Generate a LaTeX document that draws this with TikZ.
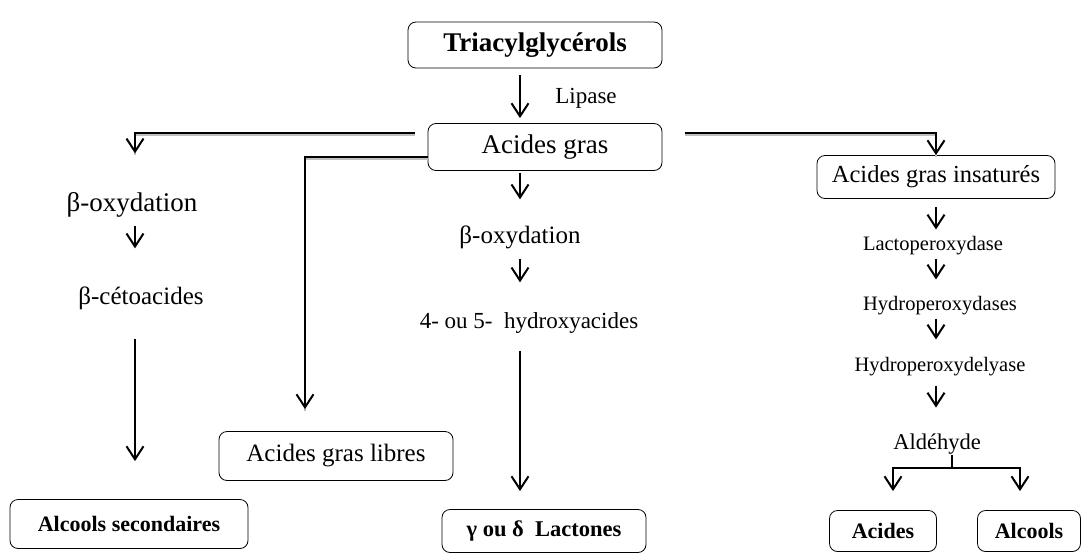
\documentclass[tikz,border=0pt]{standalone}
\usepackage{fontspec}
\setmainfont{Liberation Serif}
\usetikzlibrary{arrows.meta, positioning, calc}

\begin{document}
\begin{tikzpicture}[
  x=1pt, y=-1pt,
  >={Straight Barb[length=13pt, width=17pt, line width=2pt]},
  box/.style={draw, rounded corners=8pt, line width=0.8pt, inner sep=0pt},
  step label/.style={inner sep=1pt},
  arr/.style={->, line width=1.8pt},
  feed/.style={arr, preaction={draw=gray!50, line width=1.4pt, -, transform canvas={yshift=-2pt}}}
]
\useasboundingbox (0,0) rectangle (1082,552);

% Lipolysis
\node[box, minimum width=254pt, minimum height=46pt, font=\fontsize{27}{32}\selectfont\bfseries]
  (tag) at (535,45) {Triacylglycérols\hspace{18pt}};
\node[box, minimum width=234pt, minimum height=47pt, font=\fontsize{27}{32}\selectfont]
  (ag) at (545,147) {Acides gras};
\node[step label, font=\fontsize{23}{28}\selectfont] (lip) at (586,98) {Lipase};
\draw[arr, shorten <=7pt, shorten >=5pt] ([xshift=-15pt]tag.south) -- ([xshift=-25pt]ag.north);

% Left column: secondary alcohols
\node[step label, font=\fontsize{27}{32}\selectfont] (ox1) at (132,205) {β-oxydation};
\node[step label, font=\fontsize{25}{30}\selectfont] (ceto) at (141,298) {β-cétoacides};
\node[box, minimum width=238pt, minimum height=49pt, font=\fontsize{22}{26}\selectfont\bfseries]
  (als) at (129,524) {Alcools secondaires};
\coordinate (colL) at (135,0);
\draw[feed, shorten >=38pt] ([xshift=-13pt,yshift=14pt]ag.west) -| (ox1.north -| colL);
\draw[arr, shorten <=7pt, shorten >=37pt] (ox1.south -| colL) -- (ceto.north -| colL);
\draw[arr, shorten <=28pt, shorten >=38pt] (ceto.south -| colL) -- (als.north -| colL);

% Free fatty acids
\node[box, minimum width=234pt, minimum height=49pt, font=\fontsize{25}{30}\selectfont]
  (agl) at (336,456) {Acides gras libres};
\draw[feed, shorten >=22pt] ([yshift=-10pt]ag.west) -| ([xshift=-31pt]agl.north);

% Centre column: lactones
\node[step label, font=\fontsize{25}{30}\selectfont] (ox2) at (520,237) {β-oxydation};
\node[step label, font=\fontsize{23}{28}\selectfont] (hyd) at (529,323) {4- ou 5-~ hydroxyacides};
\node[box, minimum width=204pt, minimum height=43pt, font=\fontsize{22.5}{27}\selectfont\bfseries]
  (lac) at (544,531) {γ ou δ~ Lactones};
\draw[arr, shorten <=2pt, shorten >=25pt] ([xshift=-25pt]ag.south) -- (ox2.north);
\draw[arr, shorten <=9pt, shorten >=29pt] (ox2.south) -- (ox2.south |- hyd.north);
\draw[arr, shorten <=16pt, shorten >=18pt] (ox2.south |- hyd.south) -- (ox2.south |- lac.north);

% Right column: unsaturated fatty acids
\node[box, minimum width=238pt, minimum height=43pt, font=\fontsize{24.5}{29}\selectfont]
  (agi) at (936,177) {Acides gras insaturés};
\node[step label, font=\fontsize{20.5}{25}\selectfont] (lpx) at (933,246) {Lactoperoxydase};
\node[step label, font=\fontsize{20.5}{25}\selectfont] (hpx) at (940,306) {Hydroperoxydases};
\node[step label, font=\fontsize{20.5}{25}\selectfont] (lya) at (940,367) {Hydroperoxydelyase};
\node[step label, font=\fontsize{22.5}{27}\selectfont] (ald) at (937,444) {Aldéhyde};
\node[box, minimum width=107pt, minimum height=41pt, font=\fontsize{22}{26}\selectfont\bfseries]
  (acd) at (883,531) {Acides};
\node[box, minimum width=103pt, minimum height=41pt, font=\fontsize{22}{26}\selectfont\bfseries]
  (alc) at (1029,531) {Alcools};
\draw[feed] ([xshift=23pt,yshift=14pt]ag.east) -| (agi.north);
\draw[arr, shorten <=8pt, shorten >=6pt] (agi.south) -- (agi.south |- lpx.north);
\draw[arr, shorten <=2pt, shorten >=16pt] (agi.south |- lpx.south) -- (agi.south |- hpx.north);
\draw[arr, shorten <=2pt, shorten >=17pt] (agi.south |- hpx.south) -- (agi.south |- lya.north);
\draw[arr, shorten <=8pt, shorten >=25pt] (agi.south |- lya.south) -- (agi.south |- ald.north);

% Aldehyde split
\coordinate (fork) at (952,468);
\draw[line width=1.4pt] ([xshift=15pt]ald.south) -- (fork);
\draw[arr, shorten >=19pt] (fork) -| ([xshift=10pt]acd.north);
\draw[arr, shorten >=19pt] (fork) -| ([xshift=-9pt]alc.north);

\end{tikzpicture}
\end{document}
